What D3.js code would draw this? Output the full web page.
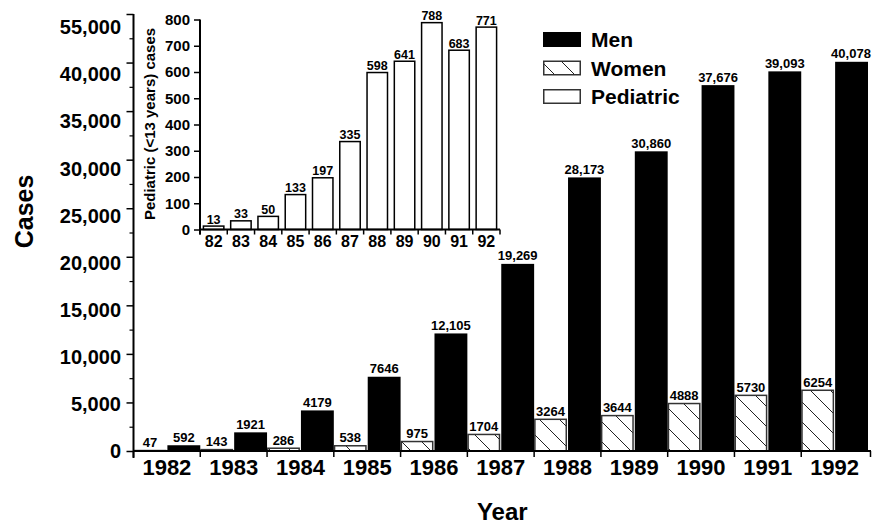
<!DOCTYPE html>
<html>
<head>
<meta charset="utf-8">
<script src="https://cdn.jsdelivr.net/npm/d3@7"></script>
<style>
  html, body { margin: 0; padding: 0; background: #fff; }
  svg { display: block; font-family: Arial, "Liberation Sans", Helvetica, sans-serif; font-weight: bold; }
</style>
</head>
<body>
<svg id="chart" width="872" height="524"></svg>
<script>
// ---------- data ----------
const years = ["1982","1983","1984","1985","1986","1987","1988","1989","1990","1991","1992"];
const women = [47, 143, 286, 538, 975, 1704, 3264, 3644, 4888, 5730, 6254];
const men = [592, 1921, 4179, 7646, 12105, 19269, 28173, 30860, 37676, 39093, 40078];
const womenLabels = ["47","143","286","538","975","1704","3264","3644","4888","5730","6254"];
const menLabels = ["592","1921","4179","7646","12,105","19,269","28,173","30,860","37,676","39,093","40,078"];
const yTickValues = [0, 5000, 10000, 15000, 20000, 25000, 30000, 35000, 40000, 45000];
const yTickLabels = ["0","5,000","10,000","15,000","20,000","25,000","30,000","35,000","40,000","55,000"];
const yMinorTicks = [2500, 7500, 12500, 17500, 22500, 27500, 32500, 37500, 42500];

const pedYears = ["82","83","84","85","86","87","88","89","90","91","92"];
const pediatric = [13, 33, 50, 133, 197, 335, 598, 641, 788, 683, 771];
const pedTicks = [0, 100, 200, 300, 400, 500, 600, 700, 800];

const legendItems = ["Men", "Women", "Pediatric"];

// ---------- setup ----------
const svg = d3.select("#chart");
const defs = svg.append("defs");
const pat = defs.append("pattern")
  .attr("id", "hatch").attr("patternUnits", "userSpaceOnUse")
  .attr("width", 20).attr("height", 20);
pat.append("rect").attr("width", 20).attr("height", 20).attr("fill", "#fff");
pat.append("path")
  .attr("d", "M0,0 L20,20 M-5,15 L5,25 M15,-5 L25,5")
  .attr("stroke", "#222").attr("stroke-width", 1);

// ---------- main chart ----------
const x0 = 133.5, x1 = 868, xEnd = 871, yBase = 451, yTop = 14;
const x = d3.scaleBand().domain(years).range([x0, x1]).padding(0);
const sub = d3.scaleBand().domain(["women","men"]).range([0, x.bandwidth()]).paddingInner(0.03);
const y = d3.scaleLinear().domain([0, 45000]).range([yBase, yTop]);
const yLab = d3.scaleLinear().domain([0, 45000]).range([yBase, 27]);

// women bars
svg.append("g").selectAll("rect").data(women).join("rect")
  .attr("x", (d, i) => x(years[i]) + sub("women") + 0.75)
  .attr("width", sub.bandwidth() - 1.5)
  .attr("y", d => y(d))
  .attr("height", d => yBase - y(d))
  .attr("fill", "url(#hatch)")
  .attr("stroke", "#333").attr("stroke-width", 1.5);

// men bars
svg.append("g").selectAll("rect").data(men).join("rect")
  .attr("x", (d, i) => x(years[i]) + sub("men"))
  .attr("width", sub.bandwidth())
  .attr("y", d => y(d))
  .attr("height", d => yBase - y(d))
  .attr("fill", "#000");

// value labels
svg.append("g").selectAll("text").data(women).join("text")
  .attr("x", (d, i) => x(years[i]) + sub("women") + sub.bandwidth() / 2)
  .attr("y", d => y(d) - 3.5)
  .attr("text-anchor", "middle").attr("font-size", 13)
  .text((d, i) => womenLabels[i]);
svg.append("g").selectAll("text").data(men).join("text")
  .attr("x", (d, i) => Math.min(x(years[i]) + sub("men") + sub.bandwidth() / 2, 851))
  .attr("y", d => y(d) - 3.5)
  .attr("text-anchor", "middle").attr("font-size", 13)
  .text((d, i) => menLabels[i]);

// y axis (ticks)
const yAxis = d3.axisLeft(y).tickValues(yTickValues).tickSize(7).tickFormat("");
const gy = svg.append("g").attr("transform", `translate(${x0},0)`).call(yAxis);
gy.select(".domain").remove();
gy.selectAll(".tick line").attr("stroke", "#000").attr("stroke-width", 1.5);
const yAxisMinor = d3.axisLeft(y).tickValues(yMinorTicks).tickSize(4).tickFormat("");
const gym = svg.append("g").attr("transform", `translate(${x0},0)`).call(yAxisMinor);
gym.select(".domain").remove();
gym.selectAll(".tick line").attr("stroke", "#000").attr("stroke-width", 1.2);
svg.append("line").attr("x1", x0).attr("x2", x0).attr("y1", yTop).attr("y2", yBase + 7)
  .attr("stroke", "#000").attr("stroke-width", 2);
// y tick labels
svg.append("g").selectAll("text").data(yTickValues).join("text")
  .attr("x", 121).attr("y", d => yLab(d))
  .attr("dy", "0.36em").attr("text-anchor", "end").attr("font-size", 20)
  .text((d, i) => yTickLabels[i]);

// x axis
svg.append("line").attr("x1", x0).attr("x2", xEnd).attr("y1", yBase).attr("y2", yBase)
  .attr("stroke", "#000").attr("stroke-width", 2);
const bounds = years.map(d => x(d)).concat([xEnd - 0.5]);
svg.append("g").selectAll("line").data(bounds).join("line")
  .attr("x1", d => d).attr("x2", d => d).attr("y1", yBase).attr("y2", yBase + 6)
  .attr("stroke", "#000").attr("stroke-width", 1.5);
svg.append("g").selectAll("text").data(years).join("text")
  .attr("x", d => x(d) + x.bandwidth() / 2).attr("y", 475)
  .attr("text-anchor", "middle").attr("font-size", 22)
  .text(d => d);

// axis titles
svg.append("text").attr("x", (x0 + xEnd) / 2).attr("y", 520)
  .attr("text-anchor", "middle").attr("font-size", 24).text("Year");
svg.append("text").attr("transform", "translate(33,211.5) rotate(-90)")
  .attr("text-anchor", "middle").attr("font-size", 25).text("Cases");

// ---------- legend ----------
const lg = svg.append("g");
const lgY = d3.scalePoint().domain(legendItems).range([32, 89]);
lg.selectAll("rect").data(legendItems).join("rect")
  .attr("x", d => d === "Men" ? 543 : 543.75)
  .attr("y", d => lgY(d) + (d === "Men" ? 0 : 0.75))
  .attr("width", d => d === "Men" ? 38 : 36.5)
  .attr("height", d => d === "Men" ? 15 : 13.5)
  .attr("fill", d => d === "Men" ? "#000" : d === "Women" ? "url(#hatch)" : "#fff")
  .attr("stroke", d => d === "Men" ? "none" : "#333")
  .attr("stroke-width", 1.5);
lg.selectAll("text").data(legendItems).join("text")
  .attr("x", 591).attr("y", d => lgY(d) + 7.5).attr("dy", "0.36em")
  .attr("font-size", 21).text(d => d);

// ---------- inset ----------
const ix0 = 200, ix1 = 500, iyBase = 229.5, iyTop = 19.5;
const ix = d3.scaleBand().domain(pedYears).range([ix0, ix1]).paddingInner(0.25).paddingOuter(0.125);
const ixb = d3.scaleBand().domain(pedYears).range([ix0, ix1]).padding(0);
const iy = d3.scaleLinear().domain([0, 800]).range([iyBase, iyTop]);

svg.append("g").selectAll("rect").data(pediatric).join("rect")
  .attr("x", (d, i) => ix(pedYears[i]))
  .attr("width", ix.bandwidth())
  .attr("y", d => iy(d))
  .attr("height", d => iyBase - iy(d))
  .attr("fill", "#fff").attr("stroke", "#000").attr("stroke-width", 1.5);
svg.append("g").selectAll("text").data(pediatric).join("text")
  .attr("x", (d, i) => ix(pedYears[i]) + ix.bandwidth() / 2)
  .attr("y", d => iy(d) - 2.5)
  .attr("text-anchor", "middle").attr("font-size", 12.5)
  .text(d => d);

const iyAxis = d3.axisLeft(iy).tickValues(pedTicks).tickSize(6).tickFormat("");
const giy = svg.append("g").attr("transform", `translate(${ix0},0)`).call(iyAxis);
giy.select(".domain").remove();
giy.selectAll(".tick line").attr("stroke", "#000").attr("stroke-width", 1.5);
svg.append("line").attr("x1", ix0).attr("x2", ix0).attr("y1", iyTop).attr("y2", iyBase + 5)
  .attr("stroke", "#000").attr("stroke-width", 2);
svg.append("g").selectAll("text").data(pedTicks).join("text")
  .attr("x", 190).attr("y", d => iy(d)).attr("dy", "0.36em")
  .attr("text-anchor", "end").attr("font-size", 15).text(d => d);

svg.append("line").attr("x1", ix0).attr("x2", ix1).attr("y1", iyBase).attr("y2", iyBase)
  .attr("stroke", "#000").attr("stroke-width", 2);
const ibounds = pedYears.map(d => ixb(d)).concat([ix1]);
svg.append("g").selectAll("line").data(ibounds).join("line")
  .attr("x1", d => d).attr("x2", d => d).attr("y1", iyBase).attr("y2", iyBase + 5)
  .attr("stroke", "#000").attr("stroke-width", 1.5);
svg.append("g").selectAll("text").data(pedYears).join("text")
  .attr("x", d => ixb(d) + ixb.bandwidth() / 2).attr("y", 247)
  .attr("text-anchor", "middle").attr("font-size", 16).text(d => d);

svg.append("text").attr("transform", "translate(155,124) rotate(-90)")
  .attr("text-anchor", "middle").attr("font-size", 15).text("Pediatric (<13 years) cases");
</script>
</body>
</html>
